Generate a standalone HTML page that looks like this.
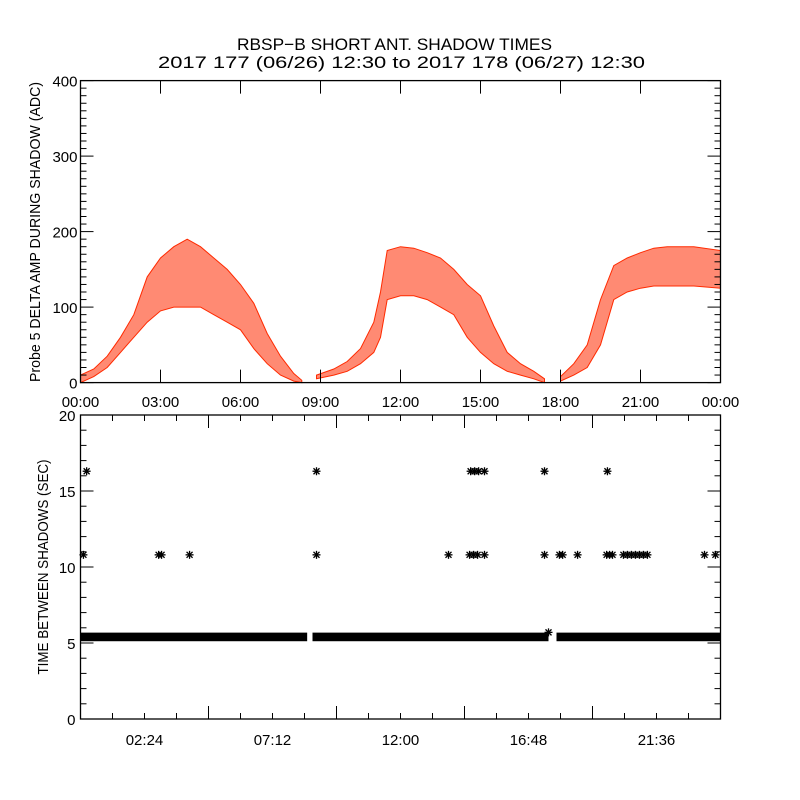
<!DOCTYPE html>
<html><head><meta charset="utf-8"><style>
body{margin:0;background:#fff}
svg{display:block}
text{font-family:"Liberation Sans",sans-serif;fill:#000}
</style></head><body>
<svg id="chart" width="800" height="800" viewBox="0 0 800 800" xmlns="http://www.w3.org/2000/svg">
<rect width="800" height="800" fill="#fff"/>
<text x="237" y="50" font-size="17" textLength="315" lengthAdjust="spacingAndGlyphs">RBSP−B SHORT ANT. SHADOW TIMES</text>
<text x="158" y="68" font-size="17" textLength="487" lengthAdjust="spacingAndGlyphs">2017 177 (06/26) 12:30 to 2017 178 (06/27) 12:30</text>
<g id="topPanel"></g>
<g id="botPanel"></g>
</svg>
<script>
// ---- top panel data (hours, low/high amplitude envelope in ADC) ----
const seg1Hours=[0,0.5,1,1.5,2,2.5,3,3.5,4,4.5,5,5.5,6,6.5,7,7.5,8,8.3];
const seg1Lo=[0,8,20,40,60,80,95,100,100,100,90,80,70,45,25,10,2,0];
const seg1Hi=[10,18,35,60,90,140,165,180,190,180,165,150,130,105,65,35,12,3];
const seg2Hours=[8.85,9.5,10,10.5,11,11.25,11.5,12,12.5,13,13.5,14,14.5,15,15.5,16,16.5,17,17.4];
const seg2Lo=[5,10,15,25,40,60,110,115,115,110,100,90,60,40,25,15,10,5,0];
const seg2Hi=[10,18,28,45,80,120,175,180,178,172,165,150,130,115,75,40,25,15,5];
const seg3Hours=[18,18.5,19,19.5,20,20.5,21,21.5,22,23,24];
const seg3Lo=[2,10,20,50,110,120,125,128,128,128,125];
const seg3Hi=[8,25,50,110,155,165,172,178,180,180,175];
const topYTicks=[0,100,200,300,400];
const topXTickLabels=["00:00","03:00","06:00","09:00","12:00","15:00","18:00","21:00","00:00"];
// ---- bottom panel data ----
const bandStart=[0,8.7,17.85];
const bandEnd=[8.5,17.55,24];
const bandValue=[5.4,5.4,5.4];
const starHours=[0.23,8.85,14.63,14.78,14.93,15.15,17.4,19.76,
 0.11,2.93,3.04,4.09,8.85,13.8,14.59,14.74,14.89,15.15,17.4,17.96,18.08,18.64,19.73,19.84,19.95,20.36,20.51,20.66,20.81,20.96,21.11,21.26,23.4,23.81,17.55];
const starValues=[16.3,16.3,16.3,16.3,16.3,16.3,16.3,16.3,
 10.8,10.8,10.8,10.8,10.8,10.8,10.8,10.8,10.8,10.8,10.8,10.8,10.8,10.8,10.8,10.8,10.8,10.8,10.8,10.8,10.8,10.8,10.8,10.8,10.8,10.8,5.7];
const botYTicks=[0,5,10,15,20];
const botXTickLabels=["02:24","07:12","12:00","16:48","21:36"];

const NS="http://www.w3.org/2000/svg";
const X0=80.5,X1=720.5;
const xs=h=>X0+h/24*(X1-X0);
const T0=382.6,T1=80.6;
const yt=v=>T0+(T1-T0)*v/400;
const B0=719,B1=415;
const yb=v=>B0+(B1-B0)*v/20;
function mk(tag,attrs,parent){const e=document.createElementNS(NS,tag);for(const k in attrs)e.setAttribute(k,attrs[k]);parent.appendChild(e);return e;}
const topG=document.getElementById('topPanel'),botG=document.getElementById('botPanel');

// top bands
[[seg1Hours,seg1Lo,seg1Hi],[seg2Hours,seg2Lo,seg2Hi],[seg3Hours,seg3Lo,seg3Hi]].forEach((s,i)=>{
  const [h,lo,hi]=s;let d="";
  h.forEach((t,j)=>{d+=(j?"L":"M")+xs(t).toFixed(1)+","+yt(hi[j]).toFixed(1);});
  for(let j=h.length-1;j>=0;j--)d+="L"+xs(h[j]).toFixed(1)+","+yt(lo[j]).toFixed(1);
  d+="Z";
  const p=mk('path',{d:d,fill:'#ff2a00','fill-opacity':'0.55',stroke:'#ff2a00','stroke-width':'1'},topG);
  
  
});
const f1=mk('rect',{x:X0,y:T1,width:X1-X0,height:T0-T1,fill:'none',stroke:'#000','stroke-width':'1.3'},topG);


for(let v=0;v<=400;v+=10){const L=v%100===0?13:6;
  mk('line',{x1:X0,x2:X0+L,y1:yt(v),y2:yt(v),stroke:'#000'},topG);
  mk('line',{x1:X1,x2:X1-L,y1:yt(v),y2:yt(v),stroke:'#000'},topG);}
topYTicks.forEach(v=>{const t=mk('text',{x:X0-3,y:yt(v)+6,'font-size':'15','text-anchor':'end'},topG);t.textContent=v;
  
  });
topXTickLabels.forEach((s,i)=>{const x=xs(i*3);
  mk('line',{x1:x,x2:x,y1:T0,y2:T0-13,stroke:'#000'},topG);mk('line',{x1:x,x2:x,y1:T1,y2:T1+13,stroke:'#000'},topG);
  const t=mk('text',{x:x,y:407,'font-size':'15','text-anchor':'middle'},topG);t.textContent=s;
  
  });
const ty=mk('text',{transform:'translate(40,232) rotate(-90)','font-size':'15','text-anchor':'middle',textLength:'300',lengthAdjust:'spacingAndGlyphs'},topG);
ty.textContent="Probe 5 DELTA AMP DURING SHADOW (ADC)";



bandStart.forEach((s,i)=>{const r=mk('rect',{x:xs(s),y:yb(bandValue[i])-4.3,width:xs(bandEnd[i])-xs(s),height:8.6,fill:'#000'},botG);
  
  });
starHours.forEach((h,i)=>{const cx=xs(h),cy=yb(starValues[i]);
  const g=mk('g',{stroke:'#000','stroke-width':'1.3'},botG);
  
  
  mk('line',{x1:cx-4,x2:cx+4,y1:cy,y2:cy},g);mk('line',{x1:cx,x2:cx,y1:cy-4,y2:cy+4},g);
  mk('line',{x1:cx-3,x2:cx+3,y1:cy-3,y2:cy+3},g);mk('line',{x1:cx-3,x2:cx+3,y1:cy+3,y2:cy-3},g);});
const f2=mk('rect',{x:X0,y:B1,width:X1-X0,height:B0-B1,fill:'none',stroke:'#000','stroke-width':'1.3'},botG);


for(let v=0;v<=20;v++){const L=v%5===0?13:6;
  mk('line',{x1:X0,x2:X0+L,y1:yb(v),y2:yb(v),stroke:'#000'},botG);
  mk('line',{x1:X1,x2:X1-L,y1:yb(v),y2:yb(v),stroke:'#000'},botG);}
botYTicks.forEach(v=>{const t=mk('text',{x:X0-5,y:yb(v)+6,'font-size':'15','text-anchor':'end'},botG);t.textContent=v;
  
  });
for(let k=0;k<=20;k++){const x=xs(k*1.2);const L=k%4===0?13:6;
  mk('line',{x1:x,x2:x,y1:B0,y2:B0-L,stroke:'#000'},botG);mk('line',{x1:x,x2:x,y1:B1,y2:B1+L,stroke:'#000'},botG);}
botXTickLabels.forEach((s,i)=>{const t=mk('text',{x:xs((i*4+2)*1.2),y:745,'font-size':'15','text-anchor':'middle'},botG);t.textContent=s;
  
  });
const by=mk('text',{transform:'translate(48,567) rotate(-90)','font-size':'15','text-anchor':'middle',textLength:'215',lengthAdjust:'spacingAndGlyphs'},botG);
by.textContent="TIME BETWEEN SHADOWS (SEC)";


</script>
</body></html>
